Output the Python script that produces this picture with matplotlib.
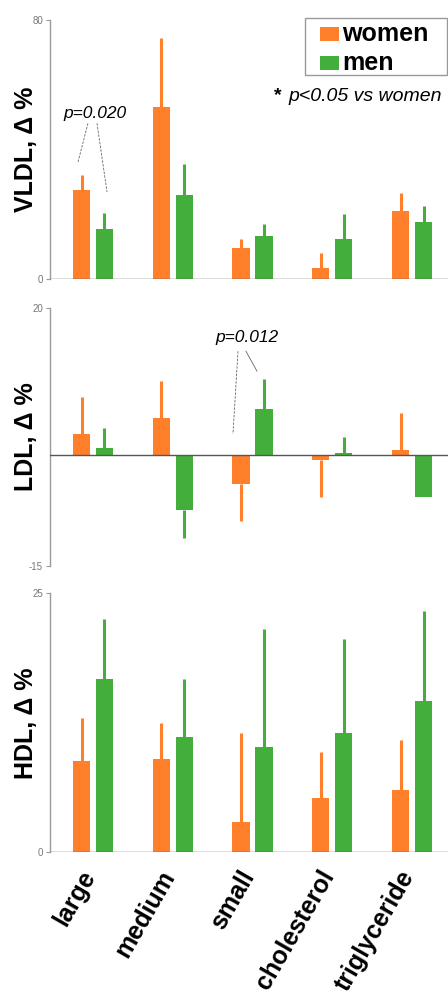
import matplotlib
matplotlib.use("Agg")
import matplotlib.pyplot as plt
import matplotlib.transforms as mtransforms
from matplotlib.patches import Rectangle
import numpy as np

plt.rcParams['font.family'] = ['Liberation Sans', 'DejaVu Sans']

categories = ["large", "medium", "small", "cholesterol", "triglyceride"]
series_names = ["women", "men"]

vldl_women = [27.5, 53.2, 9.5, 3.5, 21.0]
vldl_women_err = [4.6, 21.1, 2.9, 4.6, 5.6]
vldl_men = [15.5, 25.9, 13.2, 12.4, 17.7]
vldl_men_err = [4.9, 9.5, 3.8, 7.8, 4.7]

ldl_women = [2.9, 5.1, -3.9, -0.6, 0.7]
ldl_women_err = [5.0, 5.0, 5.0, 5.0, 5.0]
ldl_men = [1.0, -7.4, 6.3, 0.3, -5.7]
ldl_men_err = [2.7, 3.8, 4.0, 2.2, 0.0]

hdl_women = [8.8, 9.0, 2.9, 5.2, 6.0]
hdl_women_err = [4.2, 3.5, 8.6, 4.5, 4.8]
hdl_men = [16.7, 11.1, 10.2, 11.5, 14.6]
hdl_men_err = [5.8, 5.6, 11.4, 9.1, 8.7]

ORANGE = '#FF7F2A'
GREEN = '#44AE3C'
AX_GRAY = '#9a9a9a'
LINE_DARK = '#555555'

W, H = 448, 998
fig = plt.figure(figsize=(W / 100, H / 100), dpi=100)


def fx(px):
    return px / W


def fy(py):
    return 1 - py / H


def add_axes(top_px, bottom_px):
    return fig.add_axes([fx(50), fy(bottom_px), fx(398), (bottom_px - top_px) / H])


x = np.arange(len(categories))
bw = 0.215
off = 0.144


def draw(ax, w, we, m, me, ylim, ticks, ylabel):
    for vals, errs, sign, col, lab in ((w, we, -1, ORANGE, series_names[0]),
                                       (m, me, 1, GREEN, series_names[1])):
        vals = np.array(vals)
        errs = np.array(errs)
        xs = x + sign * off
        ax.bar(xs, vals, width=bw, color=col, label=lab, zorder=2)
        lower = np.where(vals < 0, errs, 0)
        upper = np.where(vals >= 0, errs, 0)
        ax.errorbar(xs, vals, yerr=[lower, upper], fmt='none', ecolor=col,
                    elinewidth=2.2, capsize=0, zorder=2)
    ax.set_xlim(-0.539, 4.451)
    ax.set_ylim(*ylim)
    ax.set_yticks(ticks)
    ax.set_yticklabels([str(t) for t in ticks])
    ax.tick_params(axis='y', length=3, width=0.8, colors=AX_GRAY, labelsize=7,
                   labelcolor='#777777', pad=2)
    for s in ('top', 'right', 'bottom'):
        ax.spines[s].set_visible(False)
    ax.spines['left'].set_color(AX_GRAY)
    ax.spines['left'].set_linewidth(1.0)
    ax.axhline(0, color=LINE_DARK, lw=1.0, zorder=3)
    ax.set_ylabel(ylabel, fontsize=18, fontweight='bold')
    ax.yaxis.set_label_coords(-0.031, 0.5)
    ax.set_xticks([])


ax1 = add_axes(20, 279)
draw(ax1, vldl_women, vldl_women_err, vldl_men, vldl_men_err, (0, 80), [0, 80], 'VLDL, Δ %')
ax2 = add_axes(307.7, 566)
draw(ax2, ldl_women, ldl_women_err, ldl_men, ldl_men_err, (-15, 20), [-15, 20], 'LDL, Δ %')
ax3 = add_axes(593.3, 852.3)
draw(ax3, hdl_women, hdl_women_err, hdl_men, hdl_men_err, (0, 25), [0, 25], 'HDL, Δ %')

ax3.set_xticks(x)
ax3.set_xticklabels(categories, rotation=60, ha='right', va='top',
                    rotation_mode='anchor', fontsize=18, fontweight='bold')
ax3.tick_params(axis='x', length=0, pad=10)
shift = mtransforms.ScaledTranslation(-14 / 100, 0, fig.dpi_scale_trans)
for lbl in ax3.get_xticklabels():
    lbl.set_transform(lbl.get_transform() + shift)

# legend (manual, figure pixel layout)
fig.add_artist(Rectangle((fx(305), fy(75)), fx(142), 57 / H, transform=fig.transFigure,
                         facecolor='white', edgecolor='#999999', lw=1.0, zorder=5))
for i, (name, col) in enumerate(zip(series_names, [ORANGE, GREEN])):
    cy = 34 + 29 * i
    fig.add_artist(Rectangle((fx(320), fy(cy + 7)), fx(19), 14 / H,
                             transform=fig.transFigure, facecolor=col, edgecolor='none',
                             zorder=6))
    fig.text(fx(342), fy(cy), name, fontsize=18, fontweight='bold', ha='left',
             va='center', zorder=7)

ax1.text(0.563, 0.708, '*', transform=ax1.transAxes, fontsize=14, fontweight='bold',
         ha='left', va='center')
ax1.text(0.985, 0.705, 'p<0.05 vs women', transform=ax1.transAxes, fontsize=14,
         style='italic', ha='right', va='center')

# p-value annotations
ax1.text(0.019, 51.2, 'p=0.020', fontsize=12.5, style='italic', ha='center', va='center')
ax1.plot([-0.063, -0.188], [48.1, 36.1], color='#666666', lw=0.6, ls=(0, (3, 1.5)))
ax1.plot([0.05, 0.176], [48.1, 26.9], color='#666666', lw=0.6, ls=(0, (3, 1.5)))

ax2.text(1.93, 15.9, 'p=0.012', fontsize=12.5, style='italic', ha='center', va='center')
ax2.plot([1.818, 1.755], [14.1, 2.9], color='#666666', lw=0.6, ls=(0, (3, 1.5)))
ax2.plot([1.918, 2.056], [14.1, 11.4], color='#666666', lw=0.6)

fig.savefig('out.png', dpi=100)
